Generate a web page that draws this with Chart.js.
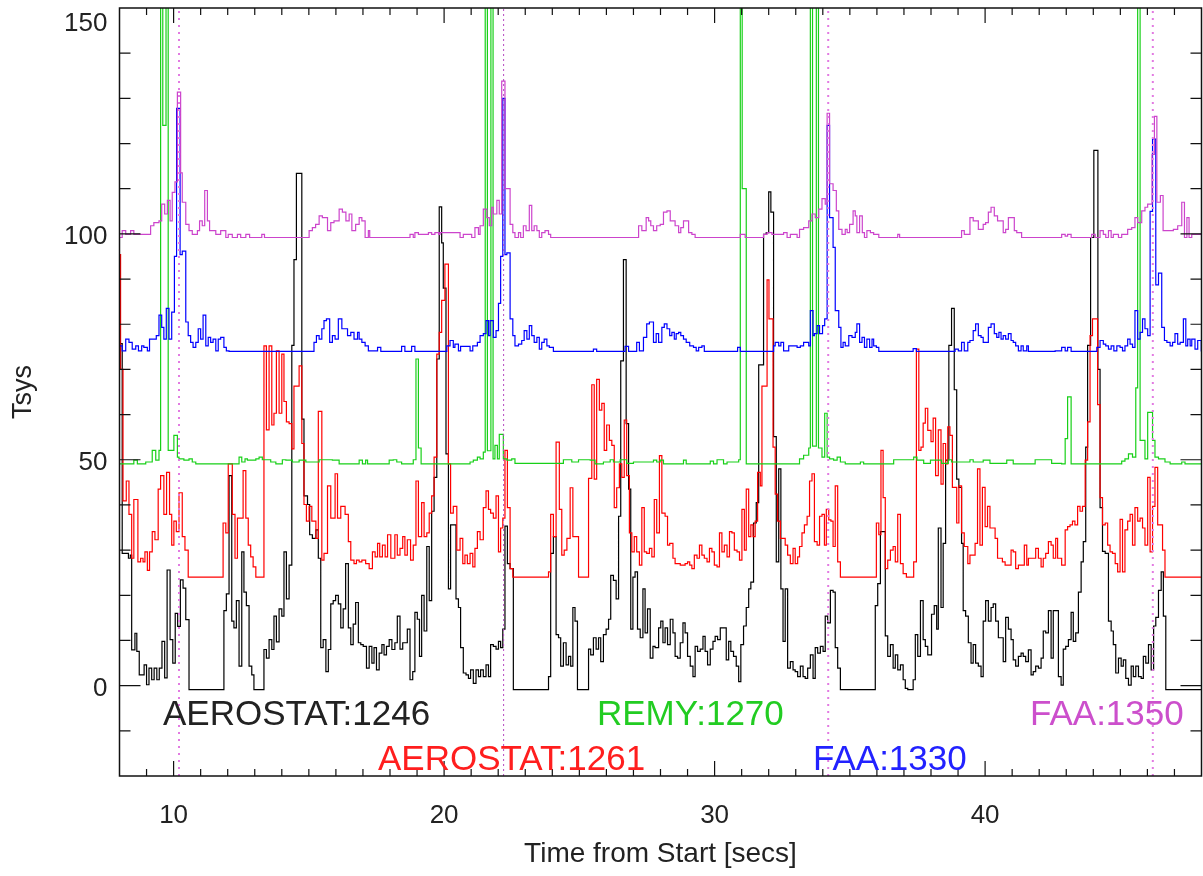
<!DOCTYPE html>
<html><head><meta charset="utf-8">
<script src="https://cdn.jsdelivr.net/npm/chart.js@4.4.1/dist/chart.umd.min.js"></script>
<style>html,body{margin:0;padding:0;background:#fff;overflow:hidden}#wrap{width:1203px;height:876px}</style>
</head><body><div id="wrap"><canvas id="c" width="1203" height="876"></canvas></div>
<script>
const xTicks = [10, 20, 30, 40];
const yTicks = [0, 50, 100, 150];
const markerTimes = [10.2, 22.2, 34.2, 46.2];
const seriesNames = ['AEROSTAT:1246', 'AEROSTAT:1261', 'REMY:1270', 'FAA:1330', 'FAA:1350'];

const faa1350 = [[8.0,99.2],[8.1,100.7],[8.23,99.9],[8.41,100.7],[8.53,99.9],[9.15,101.8],[9.27,102.5],[9.46,102.9],[9.56,106.6],[9.67,104.4],[9.77,107.4],[9.87,102.9],[9.95,109.2],[10.05,111.5],[10.14,131.4],[10.26,113.5],[10.32,107],[10.45,102.1],[10.57,100.7],[10.69,99.9],[10.88,100.7],[10.96,102.9],[11.06,101.8],[11.15,109.6],[11.25,102.9],[11.33,100.7],[11.56,99.9],[11.74,100.7],[11.93,99.2],[12.02,99.9],[12.17,99.2],[12.36,99.9],[12.48,99.2],[12.67,99.9],[12.81,99.2],[13.26,99.9],[13.36,99.2],[15.01,100.7],[15.13,101.4],[15.25,102.1],[15.38,104],[15.5,103.6],[15.69,100.7],[15.81,102.5],[15.93,102.9],[16.12,105.5],[16.24,104.8],[16.37,102.9],[16.49,104.4],[16.59,100.7],[16.73,102.1],[16.86,103.6],[16.96,102.9],[17.08,99.2],[17.2,100.7],[17.25,99.2],
[18.74,99.9],[18.86,99.2],[18.92,100.3],[19.05,99.9],[19.42,100.3],[19.54,99.9],[19.66,100.3],[19.8,99.9],[19.85,100.3],[20.59,99.2],[20.71,99.9],[21.02,99.2],[21.14,101.4],[21.27,99.9],[21.33,101.8],[21.45,105.5],[21.58,103.6],[21.67,101.8],[21.76,105.9],[21.82,104.4],[21.95,107.4],[22.04,104.4],[22.13,133.8],[22.25,110],[22.44,102.1],[22.54,100.3],[22.62,99.2],[22.75,100.3],[22.83,99.2],[22.93,101.8],[23.03,100.7],[23.15,106.3],[23.24,100.7],[23.33,101.8],[23.43,100.7],[23.52,99.2],[23.61,100.3],[23.73,100.7],[23.86,99.9],[23.94,99.2],[27.19,101.8],[27.31,100.7],[27.47,103.6],[27.56,102.9],[27.64,101.8],[27.74,100.7],[27.86,101.8],[27.99,102.1],[28.11,104.8],[28.24,105.1],[28.36,102.9],[28.54,101.8],[28.67,100.3],[28.75,101.4],[28.85,102.9],[29.04,100.3],[29.16,99.9],[29.28,99.2],[30.95,99.9],[31.13,99.2],[31.81,99.9],[31.94,100.3],[32.12,99.9],[32.55,100.3],[32.68,99.2],[32.8,99.9],[33.05,99.2],[33.14,101],[33.29,101.4],[33.48,102.9],[33.6,104.4],[33.72,103.6],[33.85,105.5],[33.97,107.8],[34.09,106.6],[34.16,126.7],[34.25,111.1],[34.38,109.6],[34.5,105.1],[34.59,101],[34.71,99.9],[34.83,101],[34.9,100.3],[34.99,102.1],[35.12,105.1],[35.2,104],[35.26,100.3],[35.36,104],[35.46,100.3],[35.54,99.2],[35.63,100.7],[35.76,100.3],[35.88,99.9],[36.07,99.2],[36.77,99.9],[36.84,99.2],
[39.13,100.7],[39.23,99.9],[39.44,103.6],[39.56,102.9],[39.75,101],[39.93,102.1],[40.02,102.5],[40.12,104.8],[40.22,105.9],[40.34,104],[40.46,102.9],[40.67,100.3],[40.76,101],[40.86,103.6],[41.08,100.7],[41.17,100.3],[41.35,99.2],[42.83,99.9],[42.96,99.5],[43.05,99.9],[43.18,99.2],[43.94,99.9],[44.07,99.2],[44.25,100.7],[44.37,99.9],[44.46,99.2],[44.56,100.7],[44.66,99.2],[44.74,99.9],[44.93,99.2],[45.05,99.9],[45.27,101],[45.42,101.4],[45.54,103.6],[45.64,102.5],[45.79,105.1],[45.91,105.9],[46.01,106.6],[46.17,117.6],[46.26,126],[46.35,107],[46.48,108.5],[46.58,100.7],[46.96,101],[47.12,101.8],[47.27,107],[47.37,99.2],[47.46,103.6],[47.54,99.2],[47.64,99.9],[48.1,99.9]];

const faa1330 = [[8.0,75.2],[8.1,74.1],[8.23,76.7],[8.35,76],[8.47,74.5],[8.6,75.2],[8.7,74.1],[8.82,75.2],[8.9,74.9],[9.03,74.1],[9.11,76.7],[9.36,77.5],[9.46,82],[9.56,79.3],[9.64,76.7],[9.73,83.5],[9.83,76.7],[9.93,82.7],[10.03,95],[10.11,127.8],[10.24,95.4],[10.32,96.2],[10.45,80.5],[10.54,77.5],[10.63,76],[10.72,74.9],[10.82,76],[10.91,79],[11.0,76.7],[11.09,82],[11.19,75.2],[11.28,77.1],[11.37,76],[11.46,76.7],[11.56,74.1],[11.65,76.7],[11.74,77.1],[11.86,74.9],[11.95,74.1],[12.05,74.0],[15.19,76],[15.28,77.5],[15.38,76.7],[15.48,79],[15.56,80.8],[15.65,81.2],[15.77,76],[15.87,77.5],[15.97,76.7],[16.09,81.2],[16.22,79],[16.43,77.5],[16.55,78.2],[16.67,76.7],[16.8,78.2],[16.86,76.7],[16.96,76],[17.08,75.2],[17.2,74.1],[17.54,74.9],[17.66,74.0],
[18.43,75.1],[18.55,74.0],[18.8,75.1],[18.92,74.0],[20.1,75.2],[20.22,76.4],[20.34,74.9],[20.4,75.6],[20.53,74.1],[20.61,75.1],[20.96,74.1],[21.06,75.2],[21.23,76],[21.33,77.5],[21.45,77.9],[21.55,80.8],[21.64,77.5],[21.7,80.8],[21.82,77.1],[21.92,78.6],[22.01,84.6],[22.09,95],[22.17,130],[22.25,95.4],[22.32,95.8],[22.44,81.2],[22.54,77.5],[22.62,75.2],[22.75,75.6],[22.87,76.4],[22.96,78.6],[23.06,76.7],[23.15,79.7],[23.24,77.5],[23.33,76],[23.43,77.1],[23.52,74.5],[23.61,76],[23.7,76.7],[23.8,75.2],[23.89,74.9],[24.04,74.0],[25.52,74.5],[25.64,74.0],[26.69,75.1],[26.82,74.0],[27.12,76],[27.22,74.1],[27.37,77.1],[27.49,80.1],[27.59,80.5],[27.74,76],[27.84,77.9],[27.93,76],[28.05,79.3],[28.14,80.1],[28.24,79],[28.34,77.5],[28.42,78.2],[28.51,76.7],[28.58,77.9],[28.67,78.2],[28.75,77.5],[28.85,76.7],[28.95,76],[29.08,75.2],[29.22,74.9],[29.32,74.1],[29.41,74.9],[29.53,75.2],[29.62,74.0],[30.85,74.9],[30.95,74.0],[32.18,75.2],[32.24,76],[32.37,75.2],[32.45,76],[32.55,74.1],[32.74,75.2],[33.05,74.9],[33.17,75.2],[33.29,76],[33.48,75.2],[33.54,83],[33.64,77.5],[33.69,77.9],[33.79,79.7],[33.88,77.9],[33.99,79.7],[34.07,81.2],[34.16,124],[34.25,103.6],[34.38,97],[34.46,83],[34.59,79.3],[34.67,74.9],[34.75,76],[34.83,75.2],[34.96,77.5],[35.08,77.1],[35.2,78.2],[35.26,80.1],[35.36,76],[35.45,77.1],[35.54,74.9],[35.63,76.7],[35.73,74.9],[35.82,76.7],[35.88,75.2],[35.98,74.9],[36.07,74.0],[37.34,74.6],[37.46,74.0],
[38.89,74.5],[39.01,74.1],[39.13,76],[39.23,74.1],[39.36,76],[39.44,76.4],[39.56,78.6],[39.65,80.1],[39.75,77.5],[39.85,77.1],[39.93,76],[40.12,79.3],[40.22,80.1],[40.34,77.9],[40.43,77.1],[40.51,78.2],[40.59,76.7],[40.67,77.5],[40.76,76.7],[40.86,77.9],[40.96,76.4],[41.04,76],[41.13,75.2],[41.23,74.1],[41.33,75.2],[41.41,74.1],[41.54,75.2],[41.6,74.0],[42.59,74.1],[42.83,74.9],[42.96,74.1],[43.05,74.9],[43.18,74.0],[44.13,74.9],[44.25,76.4],[44.37,75.6],[44.46,75.2],[44.56,74.5],[44.66,75.2],[44.76,74.1],[44.87,75.2],[44.99,74.9],[45.08,74.1],[45.17,75.2],[45.27,76.7],[45.36,75.6],[45.45,74.9],[45.54,83],[45.64,76.7],[45.73,78.2],[45.82,81.2],[45.91,79],[46.01,77.5],[46.1,105],[46.19,121],[46.31,88.7],[46.41,91.3],[46.53,79.3],[46.63,76.4],[46.72,76],[46.84,75.2],[46.93,76],[47.02,77.9],[47.12,75.6],[47.21,76],[47.33,81.2],[47.42,75.2],[47.49,76.7],[47.58,75.2],[47.64,76.7],[47.76,74.5],[47.86,76.4],[47.99,74.1],[48.1,74.1]];

const remy1270 = [[8.0,49.1],[8.53,49.9],[8.66,49.1],[8.97,49.5],[9.21,52.1],[9.34,49.9],[9.46,52.1],[9.52,170],[9.6,124],[9.72,170],[9.8,52.1],[10.01,55.4],[10.14,50.6],[10.2,50.2],[10.38,49.9],[10.57,50.2],[10.69,49.5],[10.82,49.1],[12.42,50.6],[12.52,49.5],[12.64,50.2],[12.73,49.9],[13.04,50.2],[13.16,50.6],[13.28,50],[13.59,49.5],[13.78,49.1],[14.02,50],[14.15,49.9],[14.39,49.5],[14.64,49.9],[14.89,49.5],[15.38,50],[15.87,49.9],[16.12,49.1],[16.86,49.9],[16.98,49.1],[17.1,49.9],[17.17,49.1],[17.97,49.9],[18.12,50],[18.25,49.5],[18.43,49.1],[18.86,50],[18.96,72.3],[19.05,52.6],[19.15,49.1],[20.96,49.5],[21.08,49.9],[21.23,50.6],[21.33,50.2],[21.45,51.7],[21.52,170],[21.6,52],[21.73,170],[21.81,50.2],[21.88,53.2],[21.97,50.2],[22.04,55.6],[22.19,50.2],[22.32,49.9],[22.5,50.2],[22.62,49.2],[24.41,50],[24.72,49.5],[24.97,50],[25.4,49.9],[25.58,49.1],[25.89,49.5],[26.14,50],[26.26,49.5],[26.51,50],[26.75,49.2],[27.0,49.5],[27.74,49.9],[27.86,49.5],[27.99,49.9],[28.11,49.1],[28.85,49.9],[28.95,49.1],[29.84,49.7],[29.96,49.1],[30.09,50],[30.33,49.1],[30.46,49.5],[30.89,50],[30.95,170],[31.02,110],[31.17,49.1],[33.14,50.2],[33.29,51],[33.48,52.6],[33.54,170],[33.62,53],[33.76,170],[33.84,52.6],[33.97,50.6],[34.07,60.3],[34.16,50.6],[34.25,50.2],[34.4,49.9],[34.53,50.6],[34.65,49.5],[34.83,49.1],[35.39,49.5],[35.51,49.1],[36.62,50],[37.36,50.6],[37.48,49.9],[37.73,49.2],[37.98,49.9],[38.39,49.2],[38.64,50],[38.76,49.5],[39.44,50],[39.56,49.5],[39.93,49.9],[40.18,49.2],[40.8,49.9],[41.04,49.1],[41.85,50],[42.46,49.2],[42.83,49.1],[42.96,54.7],[43.05,63.9],[43.18,49.1],[45.05,49.7],[45.17,50.2],[45.3,51.3],[45.45,50.6],[45.57,65.9],[45.64,170],[45.73,54.3],[45.91,50.2],[46.01,60.5],[46.19,54.3],[46.28,50.6],[46.41,50.2],[46.65,49.5],[46.84,49.1],[47.27,49.5],[47.39,49.1],[48.1,49.1]];

const aerostat1261 = [[8.0,95.4],[8.04,70],[8.13,40.9],[8.25,45.3],[8.35,37.9],[8.45,28.2],[8.53,41.2],[8.68,27.4],[8.78,28.2],[8.87,27.4],[8.94,29.6],[9.03,25.5],[9.11,29.6],[9.21,34.1],[9.31,32.3],[9.43,43.5],[9.52,46.5],[9.64,37.9],[9.74,47.2],[9.85,37.9],[9.93,31.1],[10.01,36.4],[10.1,34.1],[10.2,42.7],[10.32,33],[10.42,30],[10.54,24],[11.83,36],[11.93,33.8],[12.02,49.1],[12.17,37.9],[12.27,28.2],[12.36,37.1],[12.57,47.6],[12.67,37.1],[12.76,31.1],[12.85,28.5],[12.94,26.3],[13.04,24],[13.34,75.2],[13.43,56.6],[13.53,75.2],[13.63,57.7],[13.71,60.3],[13.8,74.1],[13.9,60.3],[14.0,73.4],[14.08,62.9],[14.17,58.4],[14.27,58],[14.37,52.4],[14.45,66.3],[14.64,70.8],[14.74,53.6],[14.82,40.1],[14.91,36.4],[15.01,39.7],[15.11,36.4],[15.26,32.6],[15.35,60.7],[15.48,27.8],[15.56,29.3],[15.69,44.2],[15.81,37.1],[15.97,46.9],[16.06,37.1],[16.18,39.7],[16.34,37.9],[16.46,31.9],[16.55,27.8],[16.67,27],[16.76,27.8],[16.86,27.4],[16.96,27.8],[17.1,27],[17.23,25.9],[17.35,29.6],[17.45,28.5],[17.54,31.5],[17.62,28.5],[17.72,31.1],[17.82,28.5],[17.91,33.4],[18.03,28.2],[18.18,33.4],[18.27,28.9],[18.37,30.4],[18.47,33],[18.55,28.9],[18.64,32.3],[18.76,27.8],[18.86,31.1],[18.96,45.3],[19.05,33],[19.17,40.5],[19.26,33],[19.36,33.8],[19.45,38.2],[19.54,42],[19.63,50.6],[19.73,73.4],[19.82,78.2],[19.91,85.3],[20.03,93.3],[20.16,49.1],[20.24,38.2],[20.34,39.7],[20.47,30],[20.59,32.6],[20.69,27],[20.77,28.9],[20.86,27],[20.96,29.3],[21.06,26.3],[21.14,30.4],[21.23,34.1],[21.33,32.3],[21.45,39.4],[21.55,43.1],[21.64,39],[21.72,38.2],[21.82,37.1],[21.92,42],[22.01,29.6],[22.09,34.9],[22.17,37.1],[22.25,52.1],[22.34,39.4],[22.44,25.9],[22.54,24],[23.86,25.2],[23.94,37.9],[24.04,33],[24.14,53.9],[24.26,39],[24.35,28.9],[24.44,30],[24.54,32.6],[24.66,43.8],[24.76,33],[24.97,24],[25.34,45.9],[25.46,66.6],[25.55,45.7],[25.64,67.8],[25.74,61],[25.83,62.5],[25.92,52.1],[26.01,57.7],[26.11,54.3],[26.2,53.2],[26.29,39.4],[26.38,43.8],[26.48,49.1],[26.57,46.1],[26.66,58.8],[26.75,46.5],[26.85,33.8],[26.94,29.6],[27.03,33],[27.12,29.6],[27.22,26.7],[27.31,39.4],[27.4,29.6],[27.49,29.3],[27.59,30.4],[27.68,28.5],[27.77,41.2],[27.86,33.8],[27.96,50.9],[28.05,38.2],[28.17,37.5],[28.26,31.1],[28.34,31.5],[28.46,28.2],[28.54,27],[28.73,26.7],[28.91,27],[29.0,27.4],[29.08,26.7],[29.16,25.9],[29.25,28.9],[29.35,28.2],[29.44,31.1],[29.53,28.9],[29.62,28.2],[29.72,27.4],[29.81,30.4],[29.9,29.6],[29.99,26.7],[30.09,26.3],[30.18,33.8],[30.27,29.6],[30.36,31.1],[30.46,28.5],[30.55,34.1],[30.64,33.8],[30.73,30],[30.83,29.6],[30.92,27.8],[31.01,39],[31.1,30],[31.17,43.5],[31.26,33],[31.34,35.6],[31.42,33],[31.5,36.4],[31.59,47.2],[31.69,44.2],[31.75,66.3],[31.94,89.8],[32.01,81.2],[32.16,52.8],[32.24,42.4],[32.33,36.4],[32.43,32.6],[32.61,31.1],[32.7,28.9],[32.8,27],[32.9,30.4],[32.98,27],[33.07,28.5],[33.14,30.8],[33.23,33.8],[33.32,35.6],[33.42,37.5],[33.51,45.3],[33.6,46.9],[33.69,31.9],[33.79,31.1],[33.88,37.5],[33.97,37.9],[34.06,31.1],[34.13,39],[34.22,36.7],[34.3,36.4],[34.38,30.8],[34.46,44.2],[34.55,27.4],[34.65,24],[35.98,36],[36.07,33.4],[36.15,52.1],[36.23,41.6],[36.31,25.9],[36.4,27.8],[36.5,30],[36.6,30.8],[36.68,27.4],[36.77,37.9],[36.87,27],[36.97,24.8],[37.09,24],[37.36,27.4],[37.46,74.5],[37.55,52.1],[37.63,52.8],[37.71,58.1],[37.79,61.4],[37.88,56.5],[38.0,54],[38.08,59.2],[38.17,46.5],[38.27,56.6],[38.37,44.6],[38.45,53.6],[38.54,49.1],[38.62,57.3],[38.7,55.4],[38.79,43.9],[38.95,36],[39.03,44.2],[39.13,33.8],[39.23,30.8],[39.36,27],[39.44,28.9],[39.63,31.5],[39.72,48],[39.81,31.1],[39.9,43.9],[40.0,35.2],[40.09,39.7],[40.18,34.9],[40.37,32.6],[40.46,28.2],[40.64,27.4],[40.74,26.7],[40.96,30],[41.04,29.6],[41.13,25.9],[41.23,26.7],[41.45,31.1],[41.54,26.7],[41.6,28.2],[41.87,30.4],[41.97,28.2],[42.07,26.3],[42.15,28.2],[42.24,29.3],[42.34,31.9],[42.44,31.1],[42.52,28.2],[42.61,32.6],[42.68,28.2],[42.83,26.7],[42.96,34.5],[43.05,35.2],[43.14,35.6],[43.23,36.4],[43.32,35.6],[43.42,39.7],[43.51,38.6],[43.6,39.7],[43.7,49.9],[43.79,58.4],[43.88,77.5],[43.97,81.2],[44.16,62.2],[44.25,41.6],[44.34,35.6],[44.44,36],[44.53,31.1],[44.62,29.6],[44.71,29.3],[44.81,27],[44.9,25.2],[44.99,36.8],[45.08,25.2],[45.17,34.5],[45.27,36.4],[45.36,37.9],[45.45,31.1],[45.54,39.4],[45.64,36.4],[45.73,37.1],[45.82,34.9],[45.91,31.1],[46.01,46.1],[46.1,29.6],[46.19,39.7],[46.28,48.3],[46.38,35.6],[46.56,30],[46.65,24],[48.1,24]];

const aerostat1246 = [[8.0,75.7],[8.1,29.3],[8.33,28.2],[8.4,28.9],[8.45,7.9],[8.57,11.6],[8.64,7.6],[8.73,2.4],[8.91,4.6],[9.0,0.2],[9.09,3.9],[9.19,1.3],[9.28,3.9],[9.38,1.3],[9.47,3.9],[9.57,9.8],[9.67,1.7],[9.76,25.6],[9.87,10.2],[9.97,5],[10.06,16],[10.15,13.1],[10.25,23.4],[10.35,21.6],[10.45,14.6],[10.57,-0.9],[11.86,16.6],[11.95,20.3],[12.05,46.5],[12.15,14.3],[12.23,12.8],[12.32,18.8],[12.42,4.3],[12.52,29.6],[12.6,20.7],[12.69,17.7],[12.79,4.3],[12.89,2.4],[12.97,-0.9],[13.34,8],[13.43,6.1],[13.53,10.2],[13.63,8],[13.71,15.4],[13.8,9.7],[13.9,17],[14.0,15.4],[14.08,29.6],[14.17,19.2],[14.27,26.7],[14.37,75.3],[14.45,94.3],[14.54,113.4],[14.74,59],[14.82,42],[14.95,40.1],[15.03,33.4],[15.13,32.6],[15.26,34.5],[15.35,28.2],[15.44,8.4],[15.53,10.2],[15.63,3.1],[15.72,8],[15.81,18.1],[15.9,18.8],[15.99,20],[16.09,18.1],[16.18,12.8],[16.27,17],[16.36,27],[16.46,12.8],[16.55,9.1],[16.64,13.6],[16.73,18.4],[16.83,9.5],[16.92,9.1],[17.01,8.7],[17.13,3.9],[17.23,8.7],[17.33,5],[17.41,8.4],[17.5,3.5],[17.6,7.2],[17.7,9.1],[17.78,6.8],[17.87,8.7],[17.97,10.2],[18.07,8],[18.18,9.5],[18.27,15.4],[18.37,8.1],[18.47,9.5],[18.64,12.5],[18.74,1.3],[18.84,3.1],[18.92,16.2],[19.01,14.7],[19.09,6.5],[19.17,20],[19.26,12.1],[19.36,30.8],[19.45,18.8],[19.54,38.6],[19.63,46.1],[19.73,72.3],[19.82,106],[19.91,98],[19.97,88],[20.07,51.3],[20.16,21.4],[20.24,35.6],[20.44,19.2],[20.53,17.3],[20.61,8.4],[20.71,2.8],[20.81,2.4],[20.9,1.6],[20.98,3.5],[21.08,0.5],[21.18,3.5],[21.27,2.0],[21.35,3.5],[21.45,2.0],[21.55,4.6],[21.64,2.0],[21.72,9.1],[21.82,8.7],[21.92,8.1],[22.01,9.8],[22.09,8.4],[22.17,12.5],[22.25,35.3],[22.34,27],[22.44,25.9],[22.56,-0.9],[23.86,2.0],[23.94,29.3],[24.04,33],[24.14,11.3],[24.23,10.6],[24.31,4.3],[24.41,9.5],[24.51,4.6],[24.6,6.5],[24.68,4.3],[24.76,17.3],[24.84,14.3],[24.93,-0.9],[25.34,8.1],[25.42,6.8],[25.52,10.6],[25.62,8.1],[25.71,10.6],[25.79,5.3],[25.89,11.3],[25.99,12.5],[26.08,14.7],[26.16,24.4],[26.26,23.3],[26.36,19.2],[26.45,37.5],[26.53,71.9],[26.63,94.3],[26.73,58],[26.82,43.5],[26.9,12.5],[26.98,24],[27.06,25.2],[27.15,12.5],[27.25,10.6],[27.35,21.4],[27.43,11.7],[27.52,17],[27.62,6.1],[27.72,8.7],[27.8,8.4],[27.93,12.8],[28.01,14.3],[28.09,9.5],[28.17,12.8],[28.26,9.1],[28.36,14.7],[28.46,11.7],[28.54,6.5],[28.63,6.1],[28.73,9.5],[28.83,13.9],[28.91,11.7],[29.0,6.5],[29.1,4.3],[29.2,2.0],[29.28,8.7],[29.37,7.6],[29.47,8.1],[29.57,10.9],[29.65,7.6],[29.74,4.6],[29.84,8.1],[29.94,9.8],[30.02,10.9],[30.11,10.2],[30.21,12.8],[30.43,5.7],[30.52,9.8],[30.6,7.6],[30.7,6.5],[30.8,4.3],[30.89,0.9],[30.97,9.1],[31.07,13.2],[31.17,17.3],[31.26,21.4],[31.34,22.9],[31.44,36],[31.54,40.5],[31.63,71],[31.81,99.9],[31.91,100.3],[32.0,109.3],[32.08,104.8],[32.18,55.1],[32.28,27.4],[32.37,48],[32.45,21.4],[32.53,9.8],[32.61,21.4],[32.7,3.9],[32.8,5.3],[32.9,3.5],[32.98,3.1],[33.07,2.0],[33.17,4.3],[33.27,2.0],[33.35,1.6],[33.44,3.9],[33.54,6.8],[33.64,1.6],[33.72,8.4],[33.81,7.2],[33.91,8.7],[34.01,7.6],[34.09,15.4],[34.18,13.9],[34.28,21.1],[34.38,20.7],[34.46,8.4],[34.55,3.9],[34.65,-0.9],[35.94,17.7],[36.03,22.6],[36.13,34.1],[36.31,11],[36.4,6.5],[36.5,9.1],[36.6,3.9],[36.68,6.8],[36.77,3.5],[36.87,4.6],[36.97,1.3],[37.05,-0.6],[37.14,-0.9],[37.34,1.3],[37.42,11.3],[37.51,6.5],[37.61,18.8],[37.71,10.2],[37.79,8.7],[37.88,6.8],[38.02,15.8],[38.12,17.7],[38.21,12.5],[38.27,34.9],[38.37,17.3],[38.45,31.5],[38.54,49.9],[38.66,75.3],[38.76,83.5],[38.86,65.5],[38.95,45.7],[39.03,43.9],[39.13,31.5],[39.19,16.6],[39.28,15.4],[39.38,9.5],[39.48,5.0],[39.56,9.1],[39.65,5],[39.75,4.3],[39.85,2.0],[39.93,14.3],[40.02,18.8],[40.12,14.3],[40.22,17.3],[40.3,18.1],[40.39,14.3],[40.49,10.6],[40.67,5.3],[40.76,15.1],[40.86,12.5],[40.96,10.2],[41.04,5.7],[41.13,4.3],[41.23,6.5],[41.33,7.2],[41.41,6.5],[41.5,5.3],[41.6,7.9],[41.7,2.4],[41.78,3.1],[41.87,4.3],[41.97,3.9],[42.07,6.1],[42.15,12.1],[42.24,11.7],[42.34,16.6],[42.44,6.1],[42.52,16.6],[42.71,2.0],[42.81,0.1],[42.89,8.1],[42.98,8.7],[43.08,10.2],[43.18,16.2],[43.26,9.8],[43.35,11.7],[43.45,20.7],[43.55,27.4],[43.63,31.9],[43.72,52.8],[43.79,75.3],[43.9,99.2],[44.02,118.5],[44.17,70],[44.25,39.4],[44.34,29.7],[44.44,29.3],[44.56,14.3],[44.66,12.1],[44.74,9.1],[44.83,2.8],[44.93,6.1],[45.03,4.3],[45.11,5.7],[45.2,1.6],[45.3,0.1],[45.4,4.3],[45.48,2.0],[45.57,4.3],[45.67,2.0],[45.77,1.6],[45.85,6.5],[45.94,5],[46.04,9.1],[46.14,3.5],[46.23,13.2],[46.31,15.1],[46.41,21.1],[46.51,25.2],[46.59,15.4],[46.68,-0.9],[48.1,-0.9]];

const FONT = '"Liberation Sans", Arial, Helvetica, sans-serif';
Chart.defaults.font.family = FONT;

const seriesData = [aerostat1246, aerostat1261, remy1270, faa1330, faa1350];
const seriesColors = ['#000000', '#ff0000', '#18d018', '#0000ff', '#cc44cc'];
const labelColors = ['#222222', '#ff1e1e', '#22cc22', '#2222ff', '#cc4fcc'];

const toXY = arr => arr.map(p => ({x: p[0], y: p[1]}));

const datasets = [];
markerTimes.forEach((t, i) => {
  datasets.push({
    label: 'marker ' + t,
    data: [{x: t, y: -20}, {x: t, y: 150}],
    borderColor: i === 1 ? '#b448c0' : '#e27ae2',
    borderWidth: i === 1 ? 1 : 2,
    borderDash: i === 1 ? [2, 3] : [2, 5],
    pointRadius: 0, fill: false
  });
});
for (let i = seriesData.length - 1; i >= 0; i--) {
  datasets.push({
    label: seriesNames[i],
    data: toXY(seriesData[i]),
    borderColor: seriesColors[i],
    borderWidth: 1.2,
    stepped: true,
    pointRadius: 0, fill: false
  });
}

const legendPos = [[163, 725], [378, 770], [597, 725], [813, 770], [1030, 725]];

const framePlugin = {
  id: 'frame',
  afterDatasetsDraw(chart) {
    const {ctx, chartArea: a, scales: {x, y}} = chart;
    ctx.save();
    ctx.strokeStyle = '#111';
    ctx.lineWidth = 1.5;
    ctx.strokeRect(a.left, a.top, a.right - a.left, a.bottom - a.top);
    ctx.lineWidth = 1.2;
    ctx.beginPath();
    for (let v = 9; v <= 47; v++) {
      const px = x.getPixelForValue(v);
      const len = v % 10 === 0 ? 15 : 7;
      ctx.moveTo(px, a.bottom); ctx.lineTo(px, a.bottom - len);
      ctx.moveTo(px, a.top); ctx.lineTo(px, a.top + len);
    }
    for (let v = -10; v <= 140; v += 10) {
      const py = y.getPixelForValue(v);
      const len = v % 50 === 0 ? 21 : 11;
      ctx.moveTo(a.left, py); ctx.lineTo(a.left + len, py);
      ctx.moveTo(a.right, py); ctx.lineTo(a.right - len, py);
    }
    ctx.stroke();
    ctx.font = '35px ' + FONT;
    ctx.textBaseline = 'alphabetic';
    ctx.textAlign = 'left';
    seriesNames.forEach((n, i) => {
      ctx.fillStyle = labelColors[i];
      ctx.fillText(n, legendPos[i][0], legendPos[i][1]);
    });
    ctx.restore();
  }
};

new Chart(document.getElementById('c'), {
  type: 'line',
  data: {datasets},
  options: {
    responsive: false,
    animation: false,
    devicePixelRatio: 1,
    layout: {padding: {left: 0, top: 8, right: 1.5, bottom: 0}},
    plugins: {legend: {display: false}, tooltip: {enabled: false}},
    scales: {
      x: {
        type: 'linear', position: 'bottom', min: 8, max: 48,
        afterBuildTicks: s => { s.ticks = xTicks.map(v => ({value: v})); },
        afterFit: s => { s.height = 100; s.paddingLeft = 0; s.paddingRight = 0; },
        grid: {display: false, drawTicks: false},
        border: {display: false},
        ticks: {autoSkip: false, maxRotation: 0, padding: 24, color: '#222', font: {size: 26, lineHeight: 1.2}},
        title: {display: true, text: 'Time from Start [secs]', color: '#222', font: {size: 28, lineHeight: 1.2}, padding: {top: 0, bottom: 5}}
      },
      y: {
        type: 'linear', position: 'left', min: -20, max: 150,
        afterBuildTicks: s => { s.ticks = yTicks.map(v => ({value: v})); },
        afterFit: s => { s.width = 119.5; s.paddingTop = 0; s.paddingBottom = 0; },
        grid: {display: false, drawTicks: false},
        border: {display: false},
        ticks: {
          autoSkip: false, padding: 12, labelOffset: 3, color: '#222',
          font: {size: 26, lineHeight: 1.0},
          callback: v => v === 150 ? ['', '150'] : String(v)
        },
        title: {display: true, text: 'Tsys', color: '#222', font: {size: 27, lineHeight: 1.2}, padding: {top: 7, bottom: 0}}
      }
    }
  },
  plugins: [framePlugin]
});
</script>
</body></html>
